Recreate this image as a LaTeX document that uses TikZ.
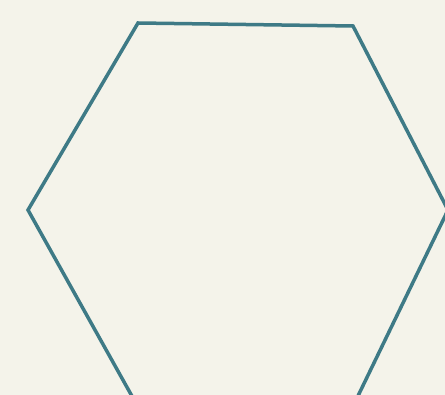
\documentclass[tikz,border=0pt]{standalone}
\definecolor{bgcream}{RGB}{244,243,234}
\definecolor{hexline}{RGB}{62,122,134}
\tikzset{hexedge/.style={draw=hexline,line width=3.5pt,line join=miter}}
\begin{document}
\begin{tikzpicture}[x=1pt,y=-1pt]
\fill[bgcream] (0,0) rectangle (445,395);
\useasboundingbox (0,0) rectangle (445,395);
\coordinate (tl) at (138,23);
\coordinate (tr) at (353,26);
\coordinate (r) at (448,210);
\coordinate (br) at (357,398);
\coordinate (bl) at (133,398);
\coordinate (l) at (28,210);
\begin{scope}
\clip (0,0) rectangle (445,395);
\draw[hexedge] (tl) -- (tr) -- (r) -- (br) -- (bl) -- (l) -- cycle;
\end{scope}
\end{tikzpicture}
\end{document}
